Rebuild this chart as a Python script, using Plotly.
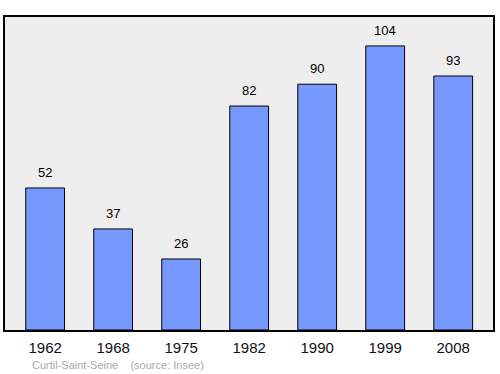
import plotly.graph_objects as go

years = ["1962", "1968", "1975", "1982", "1990", "1999", "2008"]
population = [52, 37, 26, 82, 90, 104, 93]

fig = go.Figure()
fig.add_trace(go.Bar(
    x=years, y=population, width=0.57,
    marker=dict(color="#7799ff", line=dict(color="#000000", width=1)),
    hoverinfo="skip",
))
for i, v in enumerate(population):
    fig.add_annotation(x=i, y=v, text=str(v), showarrow=False,
                       yanchor="bottom", yshift=6,
                       font=dict(size=13, color="#000000", family="Liberation Sans, Arial"))
fig.add_annotation(xref="paper", yref="paper", x=0.052, y=-0.112, xanchor="left", yanchor="middle",
                   text="Curtil-Saint-Seine &nbsp;&nbsp; (source: Insee)", showarrow=False,
                   font=dict(size=11, color="#aaaaaa", family="Liberation Sans, Arial"))

fig.update_layout(
    width=500, height=374,
    margin=dict(l=5, r=5, t=17, b=44),
    paper_bgcolor="#ffffff", plot_bgcolor="#eeeeee",
    showlegend=False,
    font=dict(family="Liberation Sans, Arial"),
    xaxis=dict(type="category", range=[-0.59, 6.585], showgrid=False,
               ticks="outside", ticklen=3, tickcolor="rgba(0,0,0,0)",
               showline=True, mirror=True, linecolor="#000000", linewidth=1.5,
               tickfont=dict(size=15, color="#111111")),
    yaxis=dict(range=[0, 114.6], showgrid=False, zeroline=False, showticklabels=False,
               showline=True, mirror=True, linecolor="#000000", linewidth=1.5),
)
fig.write_html("out.html")
